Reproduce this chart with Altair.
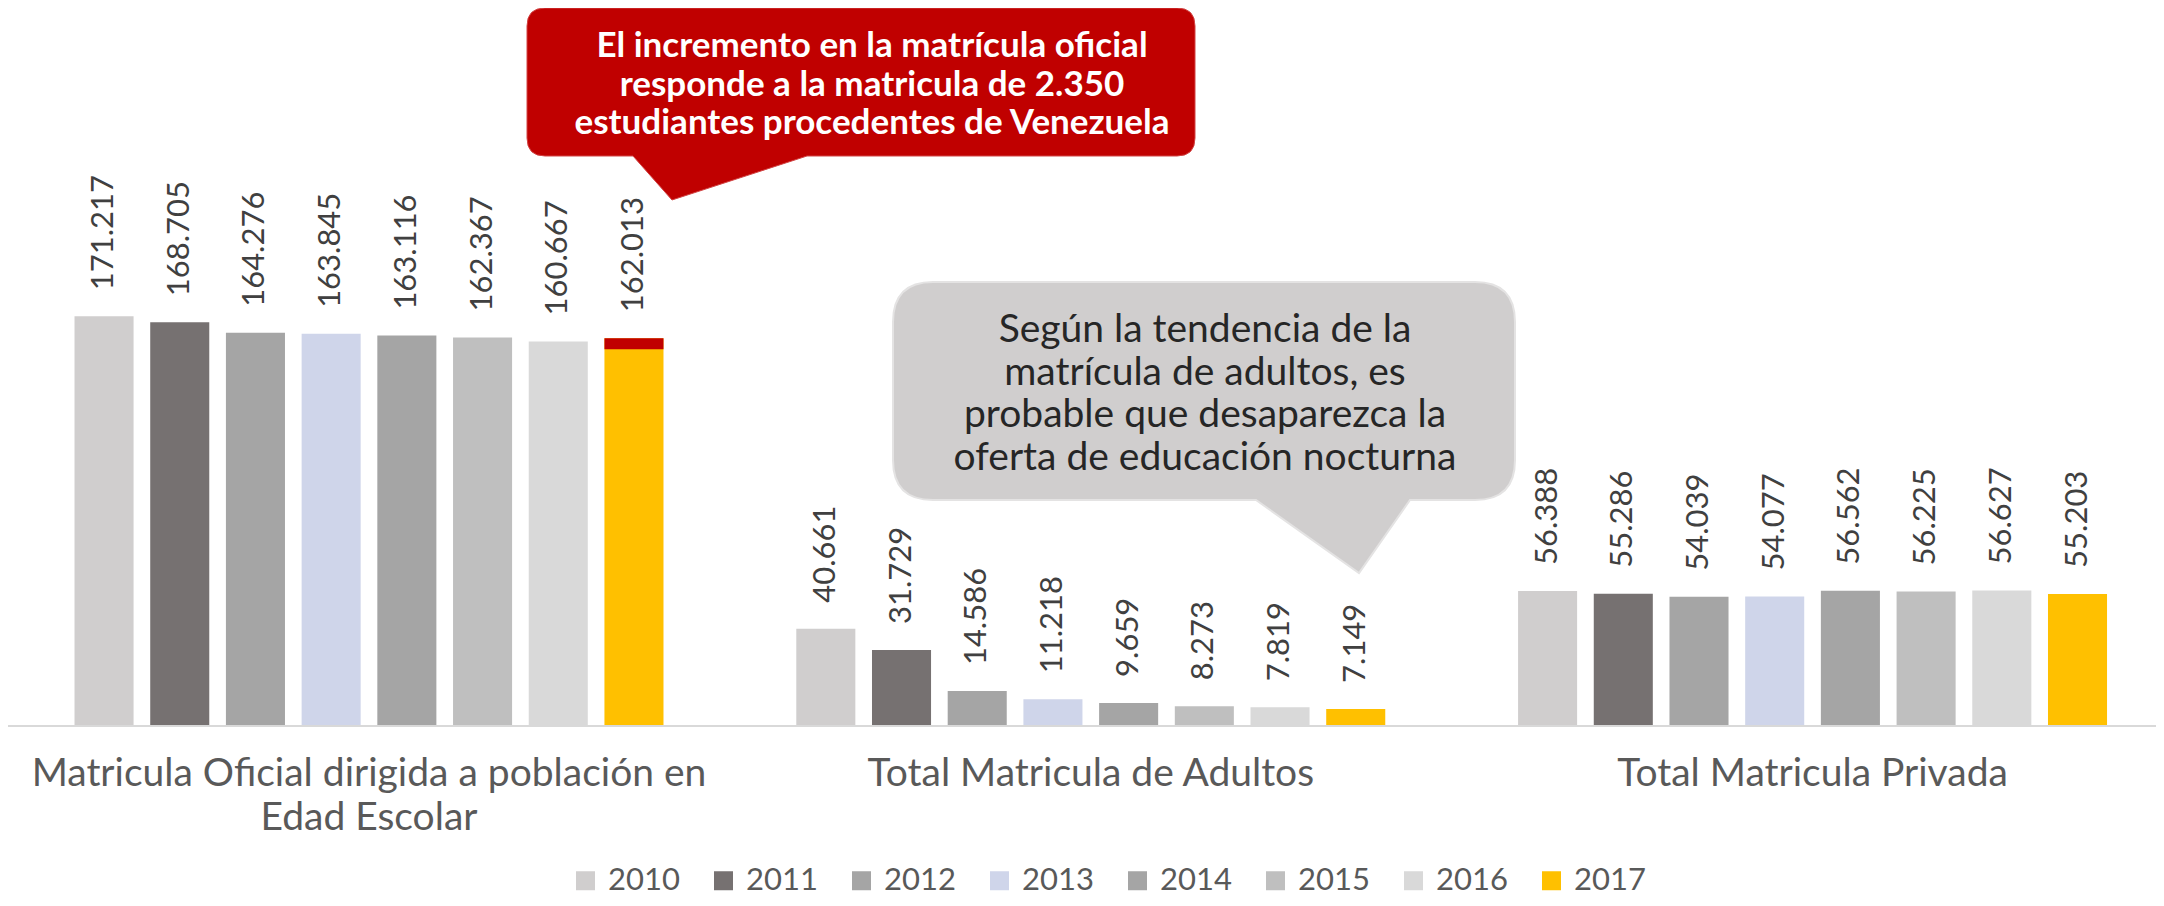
import altair as alt
import pandas as pd

# ---------------- data ----------------
grupos = [
    "Matricula Oficial dirigida a población en Edad Escolar",
    "Total Matricula de Adultos",
    "Total Matricula Privada",
]
etiquetas_grupo = [
    "Matricula Oficial dirigida a población en\nEdad Escolar",
    "Total Matricula de Adultos",
    "Total Matricula Privada",
]
anios = ["2010", "2011", "2012", "2013", "2014", "2015", "2016", "2017"]
oficial = [171217, 168705, 164276, 163845, 163116, 162367, 160667, 162013]
adultos = [40661, 31729, 14586, 11218, 9659, 8273, 7819, 7149]
privada = [56388, 55286, 54039, 54077, 56562, 56225, 56627, 55203]
# red top segment of the 2017 official bar, as drawn in the picture
segmento_rojo = 4600
colores = ["#D0CECE", "#767171", "#A5A5A5", "#CFD5EA",
           "#A5A5A5", "#BFBFBF", "#D9D9D9", "#FFC000"]

nota_roja = ("El incremento en la matrícula oficial\n"
             "responde a la matricula de 2.350\n"
             "estudiantes procedentes de Venezuela")
nota_gris = ("Según la tendencia  de la\n"
             "matrícula de adultos, es\n"
             "probable que desaparezca la\n"
             "oferta de educación nocturna")

def fmt(v):
    return f"{v:,}".replace(",", ".")

rows = []
for g, serie in zip(grupos, [oficial, adultos, privada]):
    for a, v in zip(anios, serie):
        rows.append({"grupo": g, "anio": a, "valor": v, "etiqueta": fmt(v)})
df = pd.DataFrame(rows)

df_rojo = pd.DataFrame([{
    "grupo": grupos[0], "anio": anios[-1],
    "y0": oficial[-1] - segmento_rojo, "y1": oficial[-1],
}])
df_lab = pd.DataFrame({"grupo": grupos, "etiqueta": etiquetas_grupo})
df_one = pd.DataFrame({"z": [0]})

# ---------------- layout ----------------
W, H = 2148, 890
BASE = 718
YMAX = 300000
YMIN = -YMAX * (H - BASE) / BASE
FONT = "Lato"

xs = alt.Scale(domain=grupos, paddingInner=0.184, paddingOuter=0.08, align=0.576)
xos = alt.Scale(domain=anios, paddingInner=0.22, paddingOuter=0)
ys = alt.Scale(domain=[YMIN, YMAX], nice=False, zero=False)

X = alt.X("grupo:N", scale=xs, axis=None, sort=grupos)
XO = alt.XOffset("anio:N", scale=xos, sort=anios)

bars = alt.Chart(df).mark_bar().encode(
    x=X, xOffset=XO,
    y=alt.Y("valor:Q", scale=ys, axis=None, stack=None),
    y2=alt.datum(0),
    color=alt.Color(
        "anio:N",
        scale=alt.Scale(domain=anios, range=colores),
        legend=alt.Legend(
            orient="none", legendX=562, legendY=857, direction="horizontal",
            columns=8, title=None, symbolType="square", symbolSize=361,
            symbolStrokeWidth=0, symbolOpacity=1, labelFontSize=31,
            labelFont=FONT, labelColor="#595959", columnPadding=28,
            labelOffset=7, padding=0,
        ),
    ),
)

rojo = alt.Chart(df_rojo).mark_bar(color="#C00000").encode(
    x=X, xOffset=XO,
    y=alt.Y("y0:Q", scale=ys, axis=None), y2="y1:Q",
)

labels = alt.Chart(df).mark_text(
    angle=270, align="left", baseline="middle", yOffset=-26,
    fontSize=31, font=FONT, color="#404040",
).encode(
    x=X, xOffset=XO,
    y=alt.Y("valor:Q", scale=ys, axis=None, stack=None),
    text="etiqueta:N",
)

base_rule = alt.Chart(df_one).mark_rule(color="#D9D9D9", strokeWidth=2).encode(
    y=alt.Y("z:Q", scale=ys, axis=None)
)

cat_text = alt.Chart(df_lab).mark_text(
    baseline="top", align="center", lineBreak="\n", fontSize=39,
    lineHeight=44, color="#595959", font=FONT,
).encode(x=X, y=alt.value(747), text="etiqueta:N")


def callout_path(w, h, r, b1, b2, tx, ty):
    return (f"M{r},0 H{w-r} Q{w},0 {w},{r} V{h-r} Q{w},{h} {w-r},{h} "
            f"H{b2} L{tx},{ty} L{b1},{h} H{r} Q0,{h} 0,{h-r} V{r} Q0,0 {r},0 Z")


red_shape = alt.Chart(df_one).mark_point(
    shape=callout_path(668, 148, 18, 106, 280, 145, 192),
    size=4, filled=True, fill="#C00000", stroke="#D24545", strokeWidth=1,
    opacity=1,
).encode(x=alt.value(519), y=alt.value(0))

gray_shape = alt.Chart(df_one).mark_point(
    shape=callout_path(622, 218, 40, 363, 517, 466, 291),
    size=4, filled=True, fill="#D0CECE", stroke="#E4E3E3", strokeWidth=2,
    opacity=1,
).encode(x=alt.value(885), y=alt.value(274))

red_text = alt.Chart(df_one).mark_text(
    text=nota_roja, lineBreak="\n", fontSize=35, fontWeight="bold",
    lineHeight=38.5, color="white", font=FONT, align="center", baseline="middle",
).encode(x=alt.value(864), y=alt.value(38))

gray_text = alt.Chart(df_one).mark_text(
    text=nota_gris, lineBreak="\n", fontSize=39, lineHeight=42.5,
    color="#262626", font=FONT, align="center", baseline="middle",
).encode(x=alt.value(1197), y=alt.value(322))

chart = alt.layer(
    bars, rojo, base_rule, labels, cat_text,
    red_shape, red_text, gray_shape, gray_text,
).properties(
    width=W, height=H, padding=0,
    autosize=alt.AutoSizeParams(type="none"),
).configure_view(stroke=None)

chart.save("out.html", embed_options={"renderer": "svg", "actions": False})
